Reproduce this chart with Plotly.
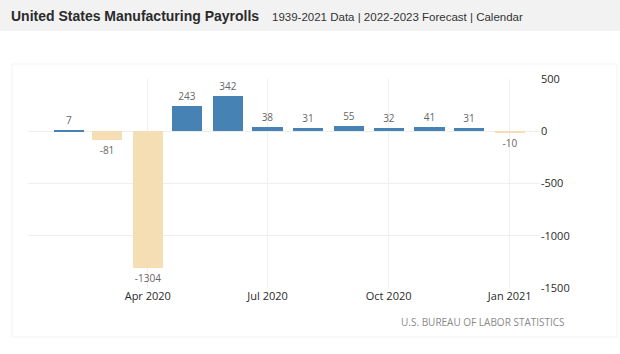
import plotly.graph_objects as go

months = ["2020-02-01", "2020-03-01", "2020-04-01", "2020-05-01", "2020-06-01", "2020-07-01",
          "2020-08-01", "2020-09-01", "2020-10-01", "2020-11-01", "2020-12-01", "2021-01-01"]
values = [7, -81, -1304, 243, 342, 38, 31, 55, 32, 41, 31, -10]
x_tickvals = ["2020-04-01", "2020-07-01", "2020-10-01", "2021-01-01"]
x_ticktext = ["Apr 2020", "Jul 2020", "Oct 2020", "Jan 2021"]
y_tickvals = [500, 0, -500, -1000, -1500]
y_ticktext = ["500", "0", "-500", "-1000", "-1500"]

POS = "#4682b4"
NEG = "#f5deb3"
colors = [POS if v >= 0 else NEG for v in values]
labels = [str(v) for v in values]

# pixel helpers (plot area: x 28..540, y 79..288)
def px(p):
    return (p - 28) / 512

def py(p):
    return (288 - p) / 209

fig = go.Figure()
fig.add_trace(go.Bar(
    x=months, y=values, width=23 * 86400000,
    marker=dict(color=colors, line=dict(width=0)),
    text=labels, textposition="outside",
    textfont=dict(family="Open Sans", size=10, color="#666666"),
    cliponaxis=False, hoverinfo="skip",
))

fig.update_layout(
    width=620, height=354,
    margin=dict(l=28, r=80, t=79, b=66),
    paper_bgcolor="white", plot_bgcolor="white",
    showlegend=False, bargap=0,
    xaxis=dict(
        type="date", range=["2020-01-01", "2021-01-24"],
        tickvals=x_tickvals, ticktext=x_ticktext,
        showgrid=True, gridcolor="#f0f0f0", gridwidth=1,
        zeroline=False, showline=False, ticks="",
        tickfont=dict(family="Open Sans", size=11, color="#2a2a2a"),
    ),
    yaxis=dict(
        side="right", range=[-1500, 500],
        tickvals=y_tickvals, ticktext=y_ticktext,
        showgrid=True, gridcolor="#eeeeee", gridwidth=1,
        zeroline=False, showline=False, ticks="",
        tickfont=dict(family="Open Sans", size=11, color="#2a2a2a"),
    ),
    shapes=[
        dict(type="rect", xref="paper", yref="paper", x0=px(0), x1=px(620),
             y0=py(31), y1=py(0), fillcolor="#f2f2f2",
             line=dict(width=0), layer="below"),
        dict(type="rect", xref="paper", yref="paper", x0=px(12), x1=px(617),
             y0=py(337), y1=py(64), fillcolor="rgba(0,0,0,0)",
             line=dict(color="#f3f3f3", width=1), layer="below"),
    ],
    annotations=[
        dict(text="<b>United States Manufacturing Payrolls</b>", xref="paper", yref="paper",
             x=px(9), y=py(16), xanchor="left", yanchor="middle", showarrow=False,
             font=dict(family="Liberation Sans", size=14, color="#2a2a2a")),
        dict(text="1939-2021 Data | 2022-2023 Forecast | Calendar", xref="paper", yref="paper",
             x=px(270), y=py(17), xanchor="left", yanchor="middle", showarrow=False,
             font=dict(family="Liberation Sans", size=11.5, color="#333333")),
        dict(text="U.S. BUREAU OF LABOR STATISTICS", xref="paper", yref="paper",
             x=px(567), y=py(322), xanchor="right", yanchor="middle", showarrow=False,
             font=dict(family="Open Sans", size=10, color="#8a8a8a")),
    ],
)

fig.write_html("out.html")
